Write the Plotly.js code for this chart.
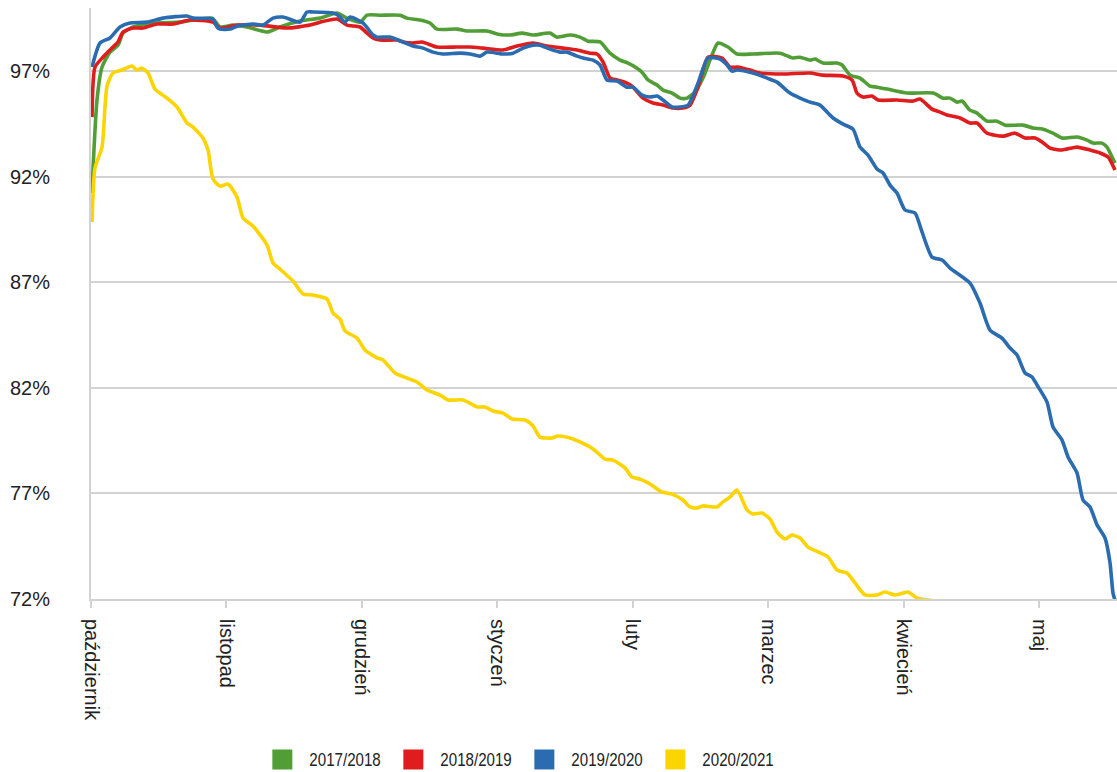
<!DOCTYPE html>
<html>
<head>
<meta charset="utf-8">
<script src="https://cdn.plot.ly/plotly-3.0.1.min.js"></script>
<style>
html,body{margin:0;padding:0;background:#fff;}
#chart{width:1117px;height:772px;}
#chart .legendtext{transform-box:fill-box;transform-origin:0 50%;transform:translateX(7px) scaleX(0.84);}
#chart .legendpoints path.scatterpts{transform:translate(20px,0px) scale(1.25);}
</style>
</head>
<body>
<div id="chart"></div>
<script>
// x = days since 1 October; y = percent
const monthLabels = ["październik","listopad","grudzień","styczeń","luty","marzec","kwiecień","maj"];
const monthStarts = [0, 30.5, 61, 91.5, 122, 152.5, 183, 213.5];
const yTicks = [72, 77, 82, 87, 92, 97];
const seriesNames = ["2017/2018","2018/2019","2019/2020","2020/2021"];

const days2017 = [0.2,1.35,2.48,4.28,6.08,7.21,9.46,14.86,20.04,27.25,29.05,31.98,35.13,39.64,42.56,47.07,51.57,55.4,57.65,60.58,62.16,65.08,69.59,71.16,74.09,76.34,77.92,82.42,84.68,89.18,91.66,94.36,97.06,99.54,103.37,104.94,107.87,110.12,111.92,114.63,116.88,119.13,120.93,122.96,124.09,125.44,127.47,128.82,130.85,132.65,134.22,136.02,137.82,139.4,141.2,143.45,145.48,149.08,155.16,158.09,159.67,161.92,163.05,164.85,168.0,169.13,170.93,173.18,175.43,177.01,179.26,183.76,189.62,191.87,193.45,195.02,196.15,197.95,199.53,201.78,204.03,205.83,209.89,212.14,214.39,216.64,218.67,222.05,224.3,225.65,227.68,228.8,229.93,230.6];
const vals2017 = [91.23,95.64,97.2,97.91,98.24,98.81,99.1,99.29,99.33,99.52,99.1,99.19,99.1,98.86,99.1,99.38,99.52,99.76,99.52,99.33,99.66,99.66,99.66,99.52,99.43,99.29,99.0,99.0,98.91,98.91,98.76,98.72,98.81,98.72,98.81,98.62,98.72,98.62,98.43,98.39,97.86,97.53,97.39,97.15,96.96,96.59,96.35,96.11,95.97,95.73,95.73,96.02,96.68,97.53,98.34,98.15,97.82,97.82,97.86,97.63,97.67,97.53,97.58,97.39,97.39,97.3,96.82,96.68,96.3,96.25,96.16,95.97,95.97,95.73,95.73,95.54,95.59,95.16,95.02,94.64,94.64,94.45,94.45,94.31,94.26,94.07,93.84,93.89,93.74,93.6,93.6,93.41,92.94,92.65];

const days2018 = [0.23,0.9,2.7,4.95,6.08,7.21,9.46,11.71,14.86,18.47,22.29,27.47,29.05,32.88,38.06,44.14,49.32,51.57,55.4,57.65,60.58,62.16,63.51,65.08,68.91,70.26,72.51,74.54,77.92,82.42,85.35,88.28,92.78,95.94,99.54,102.69,106.29,109.45,112.37,113.95,115.3,116.88,118.46,120.71,122.06,124.31,126.56,128.82,131.07,133.32,134.9,136.7,138.95,142.1,143.9,145.48,146.83,148.41,150.66,155.84,161.92,164.85,169.35,171.38,172.5,173.85,175.88,177.23,181.51,185.11,186.69,189.39,191.19,192.77,195.7,197.95,199.53,201.78,205.38,208.08,210.34,212.59,214.17,215.97,218.67,222.05,224.97,227.23,229.03,230.6];
const vals2018 = [94.83,97.2,97.67,98.15,98.39,98.86,99.05,99.05,99.24,99.24,99.43,99.33,99.05,99.19,99.19,99.05,99.19,99.33,99.48,99.19,99.1,98.81,98.58,98.48,98.48,98.39,98.34,98.39,98.15,98.15,98.15,98.1,98.01,98.2,98.34,98.2,98.1,98.01,97.86,97.82,97.44,96.68,96.59,96.44,96.25,95.73,95.5,95.4,95.26,95.26,95.4,96.25,97.67,97.63,97.2,97.2,97.15,97.06,96.92,96.87,96.92,96.82,96.78,96.59,95.97,95.78,95.83,95.64,95.64,95.59,95.69,95.21,95.07,94.93,94.79,94.55,94.55,94.07,93.93,94.07,93.84,93.84,93.65,93.36,93.27,93.41,93.27,93.13,92.94,92.32];

const days2019 = [0.23,2.03,4.28,6.53,8.78,12.61,16.21,21.62,22.97,27.47,28.38,29.05,31.3,32.88,36.48,38.73,40.99,43.24,47.07,48.64,50.0,54.5,55.62,57.2,58.33,61.25,63.51,64.41,67.33,70.26,72.51,74.77,77.02,79.27,83.1,85.35,87.6,89.18,92.78,95.04,97.29,99.54,101.11,103.37,105.62,107.2,109.45,110.8,113.05,114.63,116.2,118.46,120.71,122.06,124.09,125.89,127.47,128.82,130.85,132.65,134.45,136.7,138.95,141.65,143.23,144.36,145.48,149.08,152.24,154.49,155.84,157.41,159.67,161.92,164.17,165.75,167.1,169.35,171.6,173.18,174.98,177.01,178.36,179.93,181.51,183.31,185.56,187.14,189.39,191.65,193.45,197.95,200.2,202.45,205.16,206.96,208.54,210.34,211.91,213.04,215.29,216.64,218.67,220.02,222.05,223.4,224.97,226.55,228.35,229.48,230.15,230.6];
const vals2019 = [97.2,98.34,98.58,99.1,99.29,99.33,99.52,99.62,99.52,99.48,99.1,99.0,99.0,99.14,99.24,99.19,99.52,99.57,99.33,99.81,99.81,99.76,99.66,99.33,99.57,99.29,98.72,98.62,98.62,98.39,98.2,98.1,97.91,97.82,97.86,97.82,97.72,97.91,97.82,97.86,98.1,98.24,98.24,98.05,97.91,97.91,97.72,97.63,97.53,97.3,96.59,96.54,96.25,96.25,95.87,95.78,95.83,95.64,95.31,95.31,95.4,96.44,97.63,97.58,97.3,97.01,97.06,96.92,96.68,96.49,96.25,95.97,95.73,95.54,95.4,95.07,94.79,94.5,94.26,93.41,93.03,92.37,92.18,91.61,91.23,90.43,90.29,89.39,88.2,88.06,87.68,86.97,86.02,84.74,84.36,83.89,83.56,82.71,82.52,82.14,81.33,80.15,79.53,78.73,77.97,76.69,76.36,75.51,74.89,73.71,72.28,71.95];

const days2020 = [0.23,0.9,2.48,3.6,4.95,6.98,9.23,10.36,11.49,12.84,14.41,17.12,19.37,21.62,22.97,25.22,26.35,27.47,29.05,30.85,32.88,34.23,36.48,39.64,40.99,42.56,45.49,47.74,50.0,53.15,54.5,56.07,57.2,59.9,61.7,64.41,65.76,68.46,71.16,73.42,75.67,78.59,80.4,83.78,86.93,88.73,90.53,92.78,94.81,97.74,99.54,101.11,103.82,105.17,107.87,110.12,113.05,115.75,117.55,120.26,121.83,123.63,125.89,128.59,130.85,133.32,134.9,136.47,137.82,140.98,142.33,143.9,145.48,147.73,149.08,151.11,152.91,154.49,156.29,157.87,159.67,161.47,163.72,165.97,168.0,170.25,172.05,174.3,177.01,178.81,181.06,182.86,183.99,186.01,188.27,190.52];
const vals2020 = [89.86,92.42,93.41,96.3,96.92,97.06,97.25,97.06,97.15,96.92,96.16,95.73,95.31,94.55,94.36,93.84,93.27,91.9,91.56,91.66,91.04,90.05,89.67,88.77,87.92,87.63,87.06,86.45,86.4,86.21,85.55,85.26,84.7,84.36,83.8,83.42,83.32,82.71,82.47,82.28,81.9,81.66,81.43,81.43,81.1,81.1,80.91,80.81,80.53,80.48,80.2,79.67,79.63,79.72,79.63,79.44,79.11,78.63,78.58,78.21,77.78,77.68,77.45,77.07,76.97,76.69,76.36,76.31,76.41,76.36,76.6,76.83,77.16,76.22,76.03,76.07,75.79,75.17,74.84,75.03,74.89,74.46,74.23,73.99,73.37,73.23,72.76,72.19,72.19,72.33,72.19,72.28,72.33,72.05,71.95,71.9];

const colors = ["#519e37", "#df1d1e", "#2b6cb0", "#fcd400"];
const allX = [days2017, days2018, days2019, days2020];
const allY = [vals2017, vals2018, vals2019, vals2020];

const traces = [];
for (let i = 0; i < 4; i++) {
  traces.push({
    type: "scatter", mode: "lines", x: allX[i], y: allY[i],
    line: {color: colors[i], width: 3.6, shape: "spline", smoothing: 0.6},
    showlegend: false, hoverinfo: "skip"
  });
}
for (let i = 0; i < 4; i++) {
  traces.push({
    type: "scatter", mode: "markers", x: [null], y: [null], name: seriesNames[i],
    marker: {symbol: "square", size: 16, color: colors[i]},
    showlegend: true
  });
}
// carrier trace for the label axis
traces.push({type: "scatter", mode: "markers", x: [null], y: [null], xaxis: "x2", showlegend: false});

const gridCol = "#d2d2d2";
const tickFont = {family: "'Liberation Sans', Arial, sans-serif", size: 20, color: "#222222"};
const xRange = [0, 231.05];
const layout = {
  width: 1117, height: 772,
  margin: {l: 91, r: 0, t: 8, b: 173, pad: 0, autoexpand: false},
  paper_bgcolor: "#ffffff", plot_bgcolor: "#ffffff",
  showlegend: true,
  legend: {
    orientation: "h", x: 0.167, xanchor: "left", y: -0.272, yanchor: "middle",
    font: {family: "'Liberation Sans', Arial, sans-serif", size: 18, color: "#222222"},
    itemsizing: "trace", entrywidth: 86, entrywidthmode: "pixels", bgcolor: "rgba(0,0,0,0)"
  },
  xaxis: {
    range: xRange, tickmode: "array", tickvals: monthStarts, showticklabels: false,
    ticks: "outside", ticklen: 7, tickwidth: 2, tickcolor: gridCol,
    showline: true, linecolor: gridCol, linewidth: 2, showgrid: false, zeroline: false,
    automargin: false, fixedrange: true
  },
  xaxis2: {
    overlaying: "x", anchor: "y", side: "bottom",
    range: xRange, tickmode: "array", tickvals: monthStarts, ticktext: monthLabels,
    tickangle: 90, ticks: "outside", ticklen: 15, tickcolor: "rgba(0,0,0,0)",
    showline: false, showgrid: false, zeroline: false,
    tickfont: tickFont, automargin: false, fixedrange: true
  },
  yaxis: {
    range: [72, 100], tickmode: "array", tickvals: yTicks, ticktext: yTicks.map(v => v + "%"),
    showgrid: true, gridcolor: gridCol, gridwidth: 2, zeroline: false,
    showline: true, linecolor: gridCol, linewidth: 2,
    ticks: "outside", ticklen: 35, tickcolor: "rgba(0,0,0,0)",
    tickfont: tickFont, automargin: false, fixedrange: true
  }
};

Plotly.newPlot("chart", traces, layout, {staticPlot: true, displayModeBar: false});
</script>
</body>
</html>
